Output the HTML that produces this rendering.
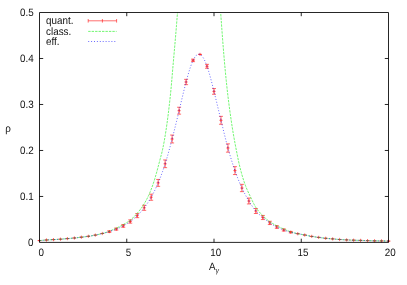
<!DOCTYPE html><html><head><meta charset="utf-8"><style>html,body{margin:0;padding:0;background:#fff}svg{display:block;filter:blur(0.35px)}text{text-rendering:geometricPrecision;font-family:"Liberation Sans",sans-serif;fill:#111}</style></head><body>
<svg width="407" height="285" viewBox="0 0 407 285">
<rect width="407" height="285" fill="#fff"/>
<defs><clipPath id="c"><rect x="39.5" y="12.5" width="349.0" height="229.9"/></clipPath></defs>
<path d="M37.60 240.60H41.40M37.90 240.60H41.10M39.50 239.00V242.20M44.58 240.00H48.38M44.88 240.00H48.08M46.48 238.40V241.60M51.56 239.60H55.36M51.86 239.60H55.06M53.46 238.00V241.20M58.54 239.20H62.34M58.84 239.20H62.04M60.44 237.60V240.80M65.52 238.60H69.32M65.82 238.60H69.02M67.42 237.00V240.20M72.50 238.00H76.30M72.80 238.00H76.00M74.40 236.40V239.60M79.48 237.20H83.28M79.78 237.20H82.98M81.38 235.60V238.80M86.46 236.30H90.26M86.76 236.30H89.96M88.36 234.70V237.90M93.44 235.10H97.24M93.74 235.10H96.94M95.34 233.50V236.70M100.42 233.50H104.22M100.72 233.50H103.92M102.32 231.90V235.10M109.30 230.75V232.45M107.30 230.75H111.30M107.30 232.45H111.30M107.70 231.60H110.90M109.30 230.00V233.20M116.28 228.05V230.15M114.28 228.05H118.28M114.28 230.15H118.28M114.68 229.10H117.88M116.28 227.50V230.70M123.26 224.55V227.25M121.26 224.55H125.26M121.26 227.25H125.26M121.66 225.90H124.86M123.26 224.30V227.50M130.24 219.85V223.15M128.24 219.85H132.24M128.24 223.15H132.24M128.64 221.50H131.84M130.24 219.90V223.10M137.22 213.55V217.65M135.22 213.55H139.22M135.22 217.65H139.22M135.62 215.60H138.82M137.22 214.00V217.20M144.20 205.25V210.35M142.20 205.25H146.20M142.20 210.35H146.20M142.60 207.80H145.80M144.20 206.20V209.40M151.18 194.15V200.25M149.18 194.15H153.18M149.18 200.25H153.18M149.58 197.20H152.78M151.18 195.60V198.80M158.16 179.45V186.35M156.16 179.45H160.16M156.16 186.35H160.16M156.56 182.90H159.76M158.16 181.30V184.50M165.14 159.95V167.65M163.14 159.95H167.14M163.14 167.65H167.14M163.54 163.80H166.74M165.14 162.20V165.40M172.12 135.05V142.95M170.12 135.05H174.12M170.12 142.95H174.12M170.52 139.00H173.72M172.12 137.40V140.60M179.10 107.25V114.15M177.10 107.25H181.10M177.10 114.15H181.10M177.50 110.70H180.70M179.10 109.10V112.30M186.08 79.35V84.65M184.08 79.35H188.08M184.08 84.65H188.08M184.48 82.00H187.68M186.08 80.40V83.60M193.06 59.15V61.65M191.06 59.15H195.06M191.06 61.65H195.06M191.46 60.40H194.66M193.06 58.80V62.00M198.14 54.40H201.94M198.44 54.40H201.64M200.04 52.80V56.00M207.02 64.35V68.25M205.02 64.35H209.02M205.02 68.25H209.02M205.42 66.30H208.62M207.02 64.70V67.90M214.00 88.55V94.25M212.00 88.55H216.00M212.00 94.25H216.00M212.40 91.40H215.60M214.00 89.80V93.00M220.98 116.35V124.25M218.98 116.35H222.98M218.98 124.25H222.98M219.38 120.30H222.58M220.98 118.70V121.90M227.96 143.85V152.15M225.96 143.85H229.96M225.96 152.15H229.96M226.36 148.00H229.56M227.96 146.40V149.60M234.94 166.65V174.55M232.94 166.65H236.94M232.94 174.55H236.94M233.34 170.60H236.54M234.94 169.00V172.20M241.92 184.35V191.65M239.92 184.35H243.92M239.92 191.65H243.92M240.32 188.00H243.52M241.92 186.40V189.60M248.90 198.05V203.95M246.90 198.05H250.90M246.90 203.95H250.90M247.30 201.00H250.50M248.90 199.40V202.60M255.88 208.50V213.50M253.88 208.50H257.88M253.88 213.50H257.88M254.28 211.00H257.48M255.88 209.40V212.60M262.86 215.45V219.55M260.86 215.45H264.86M260.86 219.55H264.86M261.26 217.50H264.46M262.86 215.90V219.10M269.84 221.25V224.55M267.84 221.25H271.84M267.84 224.55H271.84M268.24 222.90H271.44M269.84 221.30V224.50M276.82 225.65V228.35M274.82 225.65H278.82M274.82 228.35H278.82M275.22 227.00H278.42M276.82 225.40V228.60M283.80 228.95V231.05M281.80 228.95H285.80M281.80 231.05H285.80M282.20 230.00H285.40M283.80 228.40V231.60M290.78 231.45V232.95M288.78 231.45H292.78M288.78 232.95H292.78M289.18 232.20H292.38M290.78 230.60V233.80M295.86 233.70H299.66M296.16 233.70H299.36M297.76 232.10V235.30M302.84 235.00H306.64M303.14 235.00H306.34M304.74 233.40V236.60M309.82 236.40H313.62M310.12 236.40H313.32M311.72 234.80V238.00M316.80 237.40H320.60M317.10 237.40H320.30M318.70 235.80V239.00M323.78 238.30H327.58M324.08 238.30H327.28M325.68 236.70V239.90M330.76 238.90H334.56M331.06 238.90H334.26M332.66 237.30V240.50M337.74 239.50H341.54M338.04 239.50H341.24M339.64 237.90V241.10M344.72 239.90H348.52M345.02 239.90H348.22M346.62 238.30V241.50M351.70 240.20H355.50M352.00 240.20H355.20M353.60 238.60V241.80M358.68 240.40H362.48M358.98 240.40H362.18M360.58 238.80V242.00M365.66 240.60H369.46M365.96 240.60H369.16M367.56 239.00V242.20M372.64 240.80H376.44M372.94 240.80H376.14M374.54 239.20V242.40M379.62 240.90H383.42M379.92 240.90H383.12M381.52 239.30V242.50M386.60 241.10H390.40M386.90 241.10H390.10M388.50 239.50V242.70M88.2 20.8H116.6M88.2 19V22.6M116.6 19V22.6M102.4 19V22.6" stroke="#ff1010" stroke-width="0.85" fill="none" stroke-opacity="0.72"/>
<g clip-path="url(#c)" fill="none">
<path d="M39.50 240.60 L40.37 240.51 L41.24 240.42 L42.12 240.34 L42.99 240.26 L43.86 240.19 L44.73 240.12 L45.61 240.06 L46.48 240.00 L47.35 239.94 L48.23 239.89 L49.10 239.84 L49.97 239.79 L50.84 239.74 L51.72 239.69 L52.59 239.64 L53.46 239.60 L54.33 239.56 L55.20 239.51 L56.08 239.47 L56.95 239.42 L57.82 239.37 L58.70 239.32 L59.57 239.26 L60.44 239.20 L61.31 239.13 L62.19 239.06 L63.06 238.99 L63.93 238.91 L64.80 238.83 L65.67 238.75 L66.55 238.68 L67.42 238.60 L68.29 238.53 L69.17 238.45 L70.04 238.38 L70.91 238.31 L71.78 238.24 L72.66 238.16 L73.53 238.08 L74.40 238.00 L75.27 237.91 L76.14 237.82 L77.02 237.72 L77.89 237.62 L78.76 237.52 L79.64 237.41 L80.51 237.31 L81.38 237.20 L82.25 237.09 L83.12 236.99 L84.00 236.88 L84.87 236.77 L85.74 236.66 L86.62 236.54 L87.49 236.42 L88.36 236.30 L89.23 236.17 L90.11 236.04 L90.98 235.90 L91.85 235.75 L92.72 235.60 L93.59 235.44 L94.47 235.27 L95.34 235.10 L96.21 234.92 L97.09 234.73 L97.96 234.54 L98.83 234.34 L99.70 234.14 L100.58 233.93 L101.45 233.71 L102.32 233.50 L103.19 233.27 L104.06 233.03 L104.94 232.78 L105.81 232.52 L106.68 232.24 L107.56 231.94 L108.43 231.62 L109.30 231.28 L110.17 230.93 L111.05 230.56 L111.92 230.16 L112.79 229.75 L113.66 229.38 L114.53 229.00 L115.41 228.60 L116.28 228.20 L117.15 227.77 L118.03 227.34 L118.90 226.90 L119.77 226.44 L120.64 225.97 L121.52 225.50 L122.39 225.02 L123.26 224.53 L124.13 224.05 L125.01 223.56 L125.88 223.07 L126.75 222.55 L127.62 222.02 L128.50 221.45 L129.37 220.85 L130.24 220.20 L131.11 219.50 L131.99 218.73 L132.86 217.91 L133.73 217.04 L134.60 216.13 L135.47 215.18 L136.35 214.21 L137.22 213.21 L138.09 212.19 L138.97 211.14 L139.84 210.05 L140.71 208.91 L141.58 207.72 L142.45 206.47 L143.33 205.15 L144.20 203.76 L145.07 202.30 L145.94 200.76 L146.82 199.14 L147.69 197.42 L148.56 195.60 L149.44 193.65 L150.31 191.57 L151.18 189.36 L152.05 187.03 L152.93 184.58 L153.80 181.99 L154.67 179.22 L155.54 176.28 L156.42 173.20 L157.29 170.00 L158.16 166.70 L159.03 163.35 L159.91 159.98 L160.78 156.76 L161.65 153.52 L162.52 149.82 L163.40 145.61 L164.27 140.97 L165.14 135.90 L166.01 130.37 L166.89 124.37 L167.76 117.89 L168.63 110.90 L169.50 103.40 L170.38 95.37 L171.25 86.47 L172.12 76.40 L172.99 66.02 L173.87 56.06 L174.74 46.13 L175.61 36.04 L176.48 25.54 L177.35 14.35 L178.23 2.31 L179.10 -10.40 L179.97 -23.80 L180.84 -37.94 L181.72 -52.85" stroke="#10f010" stroke-width="0.9" stroke-dasharray="2.4 1.05" stroke-opacity="0.66"/>
<path d="M215.75 -68.60 L216.62 -52.62 L217.49 -37.36 L218.36 -22.78 L219.24 -8.89 L220.11 4.36 L220.98 16.99 L221.85 29.17 L222.73 40.82 L223.60 51.80 L224.47 62.05 L225.34 71.57 L226.22 80.46 L227.09 88.62 L227.96 96.20 L228.83 103.29 L229.71 109.94 L230.58 116.20 L231.45 122.14 L232.32 127.78 L233.20 133.14 L234.07 138.16 L234.94 142.92 L235.81 147.50 L236.69 151.96 L237.56 156.38 L238.43 160.63 L239.30 164.57 L240.18 168.16 L241.05 171.53 L241.92 174.70 L242.79 177.67 L243.67 180.44 L244.54 183.04 L245.41 185.47 L246.28 187.69 L247.16 189.75 L248.03 191.69 L248.90 193.56 L249.77 195.38 L250.65 197.21 L251.52 199.06 L252.39 200.91 L253.26 202.71 L254.14 204.42 L255.01 206.02 L255.88 207.46 L256.75 208.75 L257.63 209.92 L258.50 211.01 L259.37 212.03 L260.24 213.00 L261.12 213.93 L261.99 214.82 L262.86 215.70 L263.73 216.57 L264.61 217.41 L265.48 218.22 L266.35 218.99 L267.22 219.74 L268.10 220.44 L268.97 221.11 L269.84 221.73 L270.71 222.32 L271.59 222.88 L272.46 223.41 L273.33 223.92 L274.20 224.42 L275.08 224.89 L275.95 225.35 L276.82 225.80 L277.69 226.24 L278.57 226.66 L279.44 227.07 L280.31 227.46 L281.18 227.84 L282.06 228.22 L282.93 228.59 L283.80 228.95 L284.67 229.37 L285.55 229.77 L286.42 230.16 L287.29 230.53 L288.16 230.89 L289.04 231.24 L289.91 231.56 L290.78 231.87 L291.65 232.16 L292.53 232.43 L293.40 232.69 L294.27 232.92 L295.14 233.14 L296.02 233.34 L296.89 233.53 L297.76 233.70 L298.63 233.86 L299.51 234.02 L300.38 234.18 L301.25 234.34 L302.12 234.50 L303.00 234.66 L303.87 234.83 L304.74 235.00 L305.61 235.18 L306.49 235.36 L307.36 235.54 L308.23 235.72 L309.10 235.90 L309.98 236.08 L310.85 236.24 L311.72 236.40 L312.59 236.55 L313.47 236.68 L314.34 236.81 L315.21 236.94 L316.08 237.05 L316.96 237.17 L317.83 237.28 L318.70 237.40 L319.57 237.52 L320.45 237.64 L321.32 237.76 L322.19 237.87 L323.06 237.99 L323.94 238.10 L324.81 238.20 L325.68 238.30 L326.55 238.39 L327.43 238.47 L328.30 238.55 L329.17 238.62 L330.04 238.69 L330.92 238.76 L331.79 238.83 L332.66 238.90 L333.53 238.97 L334.41 239.05 L335.28 239.13 L336.15 239.21 L337.02 239.29 L337.90 239.36 L338.77 239.43 L339.64 239.50 L340.51 239.56 L341.39 239.62 L342.26 239.67 L343.13 239.72 L344.00 239.77 L344.88 239.82 L345.75 239.86 L346.62 239.90 L347.49 239.94 L348.37 239.98 L349.24 240.02 L350.11 240.06 L350.98 240.10 L351.86 240.13 L352.73 240.17 L353.60 240.20 L354.47 240.23 L355.35 240.26 L356.22 240.28 L357.09 240.31 L357.96 240.33 L358.84 240.35 L359.71 240.38 L360.58 240.40 L361.45 240.42 L362.33 240.45 L363.20 240.47 L364.07 240.50 L364.94 240.52 L365.82 240.55 L366.69 240.57 L367.56 240.60 L368.43 240.63 L369.31 240.66 L370.18 240.68 L371.05 240.71 L371.92 240.73 L372.80 240.76 L373.67 240.78 L374.54 240.80 L375.41 240.82 L376.29 240.83 L377.16 240.84 L378.03 240.86 L378.90 240.87 L379.78 240.88 L380.65 240.89 L381.52 240.90 L382.39 240.91 L383.27 240.93 L384.14 240.95 L385.01 240.97 L385.88 241.00 L386.76 241.03 L387.63 241.06 L388.50 241.10" stroke="#10f010" stroke-width="0.9" stroke-dasharray="2.4 1.05" stroke-opacity="0.66"/>
<path d="M39.50 240.60 L40.37 240.51 L41.24 240.42 L42.12 240.34 L42.99 240.26 L43.86 240.19 L44.73 240.12 L45.61 240.06 L46.48 240.00 L47.35 239.94 L48.23 239.89 L49.10 239.84 L49.97 239.79 L50.84 239.74 L51.72 239.69 L52.59 239.64 L53.46 239.60 L54.33 239.56 L55.20 239.51 L56.08 239.47 L56.95 239.42 L57.82 239.37 L58.70 239.32 L59.57 239.26 L60.44 239.20 L61.31 239.13 L62.19 239.06 L63.06 238.99 L63.93 238.91 L64.80 238.83 L65.67 238.75 L66.55 238.68 L67.42 238.60 L68.29 238.53 L69.17 238.45 L70.04 238.38 L70.91 238.31 L71.78 238.24 L72.66 238.16 L73.53 238.08 L74.40 238.00 L75.27 237.91 L76.14 237.82 L77.02 237.72 L77.89 237.62 L78.76 237.52 L79.64 237.41 L80.51 237.31 L81.38 237.20 L82.25 237.09 L83.12 236.99 L84.00 236.88 L84.87 236.77 L85.74 236.66 L86.62 236.54 L87.49 236.42 L88.36 236.30 L89.23 236.17 L90.11 236.04 L90.98 235.90 L91.85 235.75 L92.72 235.60 L93.59 235.44 L94.47 235.27 L95.34 235.10 L96.21 234.92 L97.09 234.73 L97.96 234.54 L98.83 234.34 L99.70 234.14 L100.58 233.93 L101.45 233.71 L102.32 233.50 L103.19 233.28 L104.06 233.06 L104.94 232.84 L105.81 232.60 L106.68 232.37 L107.56 232.12 L108.43 231.87 L109.30 231.60 L110.17 231.32 L111.05 231.04 L111.92 230.74 L112.79 230.43 L113.66 230.11 L114.53 229.78 L115.41 229.45 L116.28 229.10 L117.15 228.75 L118.03 228.38 L118.90 228.00 L119.77 227.61 L120.64 227.21 L121.52 226.79 L122.39 226.36 L123.26 225.90 L124.13 225.42 L125.01 224.93 L125.88 224.41 L126.75 223.87 L127.62 223.31 L128.50 222.73 L129.37 222.13 L130.24 221.50 L131.11 220.85 L131.99 220.18 L132.86 219.48 L133.73 218.75 L134.60 218.00 L135.47 217.23 L136.35 216.43 L137.22 215.60 L138.09 214.74 L138.97 213.86 L139.84 212.94 L140.71 211.99 L141.58 211.00 L142.45 209.97 L143.33 208.91 L144.20 207.80 L145.07 206.65 L145.94 205.45 L146.82 204.20 L147.69 202.91 L148.56 201.56 L149.44 200.16 L150.31 198.71 L151.18 197.20 L152.05 195.63 L152.93 194.01 L153.80 192.32 L154.67 190.57 L155.54 188.75 L156.42 186.87 L157.29 184.92 L158.16 182.90 L159.03 180.81 L159.91 178.64 L160.78 176.39 L161.65 174.05 L162.52 171.63 L163.40 169.12 L164.27 166.51 L165.14 163.80 L166.01 160.99 L166.89 158.09 L167.76 155.09 L168.63 152.01 L169.50 148.86 L170.38 145.63 L171.25 142.35 L172.12 139.00 L172.99 135.60 L173.87 132.16 L174.74 128.67 L175.61 125.14 L176.48 121.58 L177.35 117.98 L178.23 114.35 L179.10 110.70 L179.97 107.02 L180.84 103.34 L181.72 99.67 L182.59 96.02 L183.46 92.41 L184.34 88.86 L185.21 85.39 L186.08 82.00 L186.95 78.72 L187.82 75.57 L188.70 72.56 L189.57 69.72 L190.44 67.06 L191.31 64.61 L192.19 62.38 L193.06 60.40 L193.93 58.68 L194.81 57.23 L195.68 56.05 L196.55 55.15 L197.42 54.53 L198.30 54.20 L199.17 54.15 L200.04 54.40 L200.91 54.94 L201.79 55.77 L202.66 56.88 L203.53 58.26 L204.40 59.90 L205.28 61.79 L206.15 63.93 L207.02 66.30 L207.89 68.90 L208.77 71.69 L209.64 74.67 L210.51 77.80 L211.38 81.06 L212.25 84.43 L213.13 87.89 L214.00 91.40 L214.87 94.95 L215.75 98.53 L216.62 102.14 L217.49 105.76 L218.36 109.39 L219.24 113.03 L220.11 116.67 L220.98 120.30 L221.85 123.92 L222.72 127.51 L223.60 131.07 L224.47 134.59 L225.34 138.05 L226.22 141.45 L227.09 144.77 L227.96 148.00 L228.83 151.14 L229.70 154.19 L230.58 157.14 L231.45 160.00 L232.32 162.78 L233.20 165.47 L234.07 168.07 L234.94 170.60 L235.81 173.05 L236.69 175.41 L237.56 177.70 L238.43 179.92 L239.30 182.05 L240.18 184.11 L241.05 186.09 L241.92 188.00 L242.79 189.83 L243.67 191.60 L244.54 193.29 L245.41 194.93 L246.28 196.52 L247.16 198.05 L248.03 199.55 L248.90 201.00 L249.77 202.42 L250.65 203.80 L251.52 205.14 L252.39 206.43 L253.26 207.66 L254.13 208.84 L255.01 209.95 L255.88 211.00 L256.75 211.97 L257.62 212.88 L258.50 213.74 L259.37 214.55 L260.24 215.32 L261.12 216.06 L261.99 216.79 L262.86 217.50 L263.73 218.21 L264.61 218.92 L265.48 219.62 L266.35 220.31 L267.22 220.98 L268.10 221.64 L268.97 222.28 L269.84 222.90 L270.71 223.49 L271.58 224.06 L272.46 224.60 L273.33 225.12 L274.20 225.62 L275.07 226.10 L275.95 226.56 L276.82 227.00 L277.69 227.43 L278.56 227.84 L279.44 228.23 L280.31 228.61 L281.18 228.98 L282.06 229.33 L282.93 229.67 L283.80 230.00 L284.67 230.32 L285.55 230.62 L286.42 230.92 L287.29 231.20 L288.16 231.47 L289.03 231.72 L289.91 231.97 L290.78 232.20 L291.65 232.42 L292.52 232.63 L293.40 232.82 L294.27 233.01 L295.14 233.19 L296.01 233.37 L296.89 233.54 L297.76 233.70 L298.63 233.86 L299.50 234.02 L300.38 234.18 L301.25 234.34 L302.12 234.50 L303.00 234.66 L303.87 234.83 L304.74 235.00 L305.61 235.18 L306.49 235.36 L307.36 235.54 L308.23 235.72 L309.10 235.90 L309.98 236.08 L310.85 236.24 L311.72 236.40 L312.59 236.55 L313.47 236.68 L314.34 236.81 L315.21 236.94 L316.08 237.05 L316.96 237.17 L317.83 237.28 L318.70 237.40 L319.57 237.52 L320.45 237.64 L321.32 237.76 L322.19 237.87 L323.06 237.99 L323.94 238.10 L324.81 238.20 L325.68 238.30 L326.55 238.39 L327.43 238.47 L328.30 238.55 L329.17 238.62 L330.04 238.69 L330.92 238.76 L331.79 238.83 L332.66 238.90 L333.53 238.97 L334.41 239.05 L335.28 239.13 L336.15 239.21 L337.02 239.29 L337.90 239.36 L338.77 239.43 L339.64 239.50 L340.51 239.56 L341.38 239.62 L342.26 239.67 L343.13 239.72 L344.00 239.77 L344.88 239.82 L345.75 239.86 L346.62 239.90 L347.49 239.94 L348.37 239.98 L349.24 240.02 L350.11 240.06 L350.98 240.10 L351.86 240.13 L352.73 240.17 L353.60 240.20 L354.47 240.23 L355.35 240.26 L356.22 240.28 L357.09 240.31 L357.96 240.33 L358.83 240.35 L359.71 240.38 L360.58 240.40 L361.45 240.42 L362.32 240.45 L363.20 240.47 L364.07 240.50 L364.94 240.52 L365.81 240.55 L366.69 240.57 L367.56 240.60 L368.43 240.63 L369.31 240.66 L370.18 240.68 L371.05 240.71 L371.92 240.73 L372.80 240.76 L373.67 240.78 L374.54 240.80 L375.41 240.82 L376.28 240.83 L377.16 240.84 L378.03 240.86 L378.90 240.87 L379.77 240.88 L380.65 240.89 L381.52 240.90 L382.39 240.91 L383.27 240.93 L384.14 240.95 L385.01 240.97 L385.88 241.00 L386.75 241.03 L387.63 241.06 L388.50 241.10" stroke="#1818ff" stroke-width="1.0" stroke-dasharray="1.0 1.9" stroke-opacity="0.64"/>
</g>
<path d="M88.2 31.4H116.6" stroke="#10f010" stroke-width="0.9" stroke-dasharray="2.4 1.05" stroke-opacity="0.66"/>
<path d="M88.2 41.5H115.6" stroke="#1818ff" stroke-width="1.0" stroke-dasharray="1.0 1.9" stroke-opacity="0.64"/>
<path d="M39.5 12.5H388.5V242.4H39.5ZM39.5 196.46h3.7M388.5 196.46h-3.7M39.5 150.47h3.7M388.5 150.47h-3.7M39.5 104.48h3.7M388.5 104.48h-3.7M39.5 58.49h3.7M388.5 58.49h-3.7M126.75 242.4v-3.7M126.75 12.5v3.7M214.00 242.4v-3.7M214.00 12.5v3.7M301.25 242.4v-3.7M301.25 12.5v3.7" stroke="#000" stroke-width="1" fill="none" stroke-opacity="0.85"/>
<text transform="translate(33.60,245.80) scale(0.92,1)" font-size="10.7" text-anchor="end">0</text>
<text transform="translate(33.60,199.81) scale(0.92,1)" font-size="10.7" text-anchor="end">0.1</text>
<text transform="translate(33.60,153.82) scale(0.92,1)" font-size="10.7" text-anchor="end">0.2</text>
<text transform="translate(33.60,107.83) scale(0.92,1)" font-size="10.7" text-anchor="end">0.3</text>
<text transform="translate(33.60,61.84) scale(0.92,1)" font-size="10.7" text-anchor="end">0.4</text>
<text transform="translate(33.60,15.85) scale(0.92,1)" font-size="10.7" text-anchor="end">0.5</text>
<text transform="translate(41.30,256.00) scale(0.92,1)" font-size="10.7" text-anchor="middle">0</text>
<text transform="translate(128.55,256.00) scale(0.92,1)" font-size="10.7" text-anchor="middle">5</text>
<text transform="translate(215.80,256.00) scale(0.92,1)" font-size="10.7" text-anchor="middle">10</text>
<text transform="translate(303.05,256.00) scale(0.92,1)" font-size="10.7" text-anchor="middle">15</text>
<text transform="translate(390.30,256.00) scale(0.92,1)" font-size="10.7" text-anchor="middle">20</text>
<text transform="translate(46.10,24.30) scale(0.92,1)" font-size="10.7" text-anchor="start">quant.</text>
<text transform="translate(46.10,34.60) scale(0.92,1)" font-size="10.7" text-anchor="start">class.</text>
<text transform="translate(46.10,44.90) scale(0.92,1)" font-size="10.7" text-anchor="start">eff.</text>
<text transform="translate(5.20,131.80) scale(0.92,1)" font-size="10.7" text-anchor="start">ρ</text>
<text transform="translate(209.10,269.80) scale(0.92,1)" font-size="10.7" text-anchor="start">A</text>
<text transform="translate(215.8,272.9) scale(0.82,1)" font-size="7.7" font-style="italic">γ</text>
</svg></body></html>
